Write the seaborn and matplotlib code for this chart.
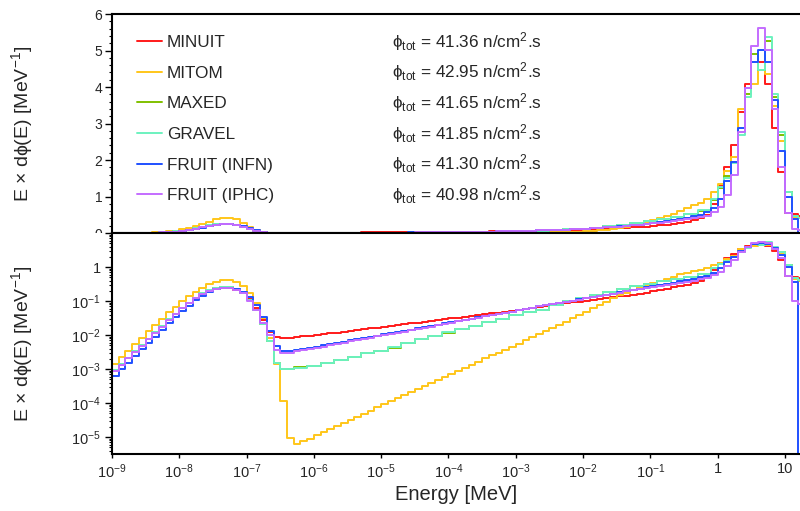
import numpy as np
import pandas as pd
import matplotlib
matplotlib.use('Agg')
import matplotlib.pyplot as plt
from matplotlib.ticker import FixedLocator, FuncFormatter, MultipleLocator, NullLocator, NullFormatter
from matplotlib.patches import Rectangle
import seaborn as sns

sns.set_theme(style='ticks')
plt.rcParams['font.family'] = ['Liberation Sans', 'DejaVu Sans']
plt.rcParams['mathtext.fontset'] = 'custom'
plt.rcParams['mathtext.rm'] = 'Liberation Sans'
plt.rcParams['mathtext.it'] = 'Liberation Sans:italic'
plt.rcParams['mathtext.bf'] = 'Liberation Sans:bold'

# energy binning: 10 bins / decade, first bin starts at 1e-9 MeV
first_decade = -9
bins_per_decade = 10

methods = ['MINUIT', 'MITOM', 'MAXED', 'GRAVEL', 'FRUIT (INFN)', 'FRUIT (IPHC)']
colors = ['#ff1a1a', '#ffc61a', '#80c000', '#6cf2bf', '#1f50ff', '#c46cff']
phi_tot = ['41.36', '42.95', '41.65', '41.85', '41.30', '40.98']

# log10 of E x dphi(E) per bin
minuit = [-3.03, -2.87, -2.68, -2.48, -2.30, -2.12, -1.92, -1.74, -1.55, -1.38,
          -1.21, -1.06, -0.92, -0.80, -0.71, -0.65, -0.62, -0.62, -0.67, -0.76,
          -0.95, -1.22, -1.56, -1.90, -2.07, -2.09, -2.08, -2.06, -2.04, -2.02,
          -2.00, -1.97, -1.95, -1.93, -1.90, -1.88, -1.85, -1.83, -1.80, -1.78,
          -1.76, -1.73, -1.71, -1.69, -1.66, -1.64, -1.61, -1.59, -1.56, -1.54,
          -1.51, -1.49, -1.46, -1.44, -1.41, -1.39, -1.36, -1.34, -1.31, -1.29,
          -1.26, -1.24, -1.21, -1.18, -1.15, -1.11, -1.09, -1.07, -1.04, -1.02,
          -0.99, -0.97, -0.94, -0.92, -0.89, -0.86, -0.84, -0.81, -0.78, -0.75,
          -0.72, -0.68, -0.64, -0.60, -0.56, -0.52, -0.46, -0.40, -0.30, -0.10,
          0.11, 0.26, 0.38, 0.52, 0.61, 0.67, 0.67, 0.61, 0.46, 0.22,
          -0.27, -0.28, -0.33]

mitom = [-2.86, -2.66, -2.46, -2.27, -2.08, -1.88, -1.71, -1.52, -1.33, -1.17,
         -1.01, -0.86, -0.73, -0.61, -0.51, -0.43, -0.38, -0.38, -0.43, -0.55,
         -0.75, -1.05, -1.51, -2.10, -2.86, -3.94, -5.04, -5.21, -5.12, -5.05,
         -4.94, -4.85, -4.77, -4.68, -4.58, -4.49, -4.40, -4.31, -4.22, -4.13,
         -4.04, -3.95, -3.86, -3.77, -3.68, -3.59, -3.50, -3.41, -3.32, -3.23,
         -3.14, -3.05, -2.96, -2.87, -2.78, -2.69, -2.60, -2.52, -2.43, -2.34,
         -2.25, -2.16, -2.07, -1.98, -1.89, -1.80, -1.72, -1.61, -1.50, -1.40,
         -1.31, -1.22, -1.12, -1.02, -0.92, -0.83, -0.75, -0.67, -0.59, -0.52,
         -0.46, -0.40, -0.34, -0.28, -0.22, -0.17, -0.12, -0.08, -0.03, 0.05,
         0.13, 0.23, 0.32, 0.53, 0.60, 0.61, 0.65, 0.64, 0.54, 0.40,
         0.05, -0.35, -0.40]

maxed = [-3.03, -2.86, -2.67, -2.47, -2.29, -2.11, -1.91, -1.73, -1.54, -1.37,
         -1.20, -1.05, -0.90, -0.77, -0.68, -0.62, -0.59, -0.59, -0.64, -0.75,
         -0.98, -1.26, -1.68, -2.18, -2.83, -3.00, -3.00, -2.95, -2.95, -2.90,
         -2.90, -2.81, -2.81, -2.74, -2.74, -2.64, -2.64, -2.53, -2.53, -2.46,
         -2.46, -2.37, -2.37, -2.23, -2.23, -2.13, -2.13, -2.03, -2.03, -1.93,
         -1.93, -1.83, -1.83, -1.74, -1.74, -1.62, -1.62, -1.53, -1.53, -1.42,
         -1.42, -1.32, -1.32, -1.25, -1.25, -1.13, -1.13, -1.01, -1.01, -0.92,
         -0.92, -0.83, -0.83, -0.74, -0.74, -0.66, -0.66, -0.57, -0.57, -0.49,
         -0.49, -0.42, -0.42, -0.35, -0.35, -0.28, -0.28, -0.21, -0.21, -0.04,
         0.09, 0.19, 0.29, 0.44, 0.58, 0.69, 0.65, 0.72, 0.57, 0.43,
         0.05, -0.33, -0.38]

gravel = [-3.03, -2.86, -2.67, -2.47, -2.29, -2.11, -1.91, -1.73, -1.54, -1.37,
          -1.20, -1.05, -0.90, -0.77, -0.68, -0.62, -0.59, -0.59, -0.64, -0.75,
          -0.98, -1.26, -1.68, -2.18, -2.83, -3.01, -3.01, -2.96, -2.96, -2.90,
          -2.90, -2.81, -2.81, -2.74, -2.74, -2.64, -2.64, -2.52, -2.52, -2.46,
          -2.46, -2.36, -2.36, -2.23, -2.23, -2.13, -2.13, -2.03, -2.03, -1.92,
          -1.92, -1.83, -1.83, -1.74, -1.74, -1.61, -1.61, -1.53, -1.53, -1.41,
          -1.41, -1.32, -1.32, -1.25, -1.25, -1.13, -1.13, -1.00, -1.00, -0.92,
          -0.92, -0.83, -0.83, -0.74, -0.74, -0.66, -0.66, -0.57, -0.57, -0.49,
          -0.49, -0.42, -0.42, -0.35, -0.35, -0.28, -0.28, -0.20, -0.20, -0.03,
          0.10, 0.18, 0.28, 0.43, 0.57, 0.67, 0.65, 0.73, 0.58, 0.44,
          0.05, -0.33, -0.38]

fruit_infn = [-3.21, -3.00, -2.81, -2.62, -2.42, -2.24, -2.05, -1.85, -1.66, -1.48,
              -1.29, -1.15, -0.97, -0.85, -0.74, -0.65, -0.61, -0.61, -0.66, -0.73,
              -0.87, -1.12, -1.46, -1.88, -2.31, -2.46, -2.46, -2.44, -2.41, -2.37,
              -2.34, -2.30, -2.27, -2.23, -2.20, -2.16, -2.12, -2.09, -2.05, -2.02,
              -1.98, -1.95, -1.91, -1.87, -1.84, -1.80, -1.77, -1.73, -1.70, -1.66,
              -1.62, -1.59, -1.55, -1.52, -1.48, -1.45, -1.41, -1.38, -1.34, -1.31,
              -1.27, -1.23, -1.20, -1.16, -1.13, -1.09, -1.06, -1.02, -0.99, -0.95,
              -0.92, -0.88, -0.85, -0.81, -0.78, -0.74, -0.71, -0.67, -0.64, -0.60,
              -0.57, -0.53, -0.50, -0.46, -0.42, -0.38, -0.34, -0.30, -0.25, -0.17,
              -0.03, 0.15, 0.29, 0.46, 0.60, 0.67, 0.70, 0.67, 0.56, 0.35,
              -0.01, -0.43, -np.inf]

fruit_iphc = [-3.05, -2.88, -2.69, -2.49, -2.31, -2.13, -1.93, -1.75, -1.56, -1.39,
              -1.22, -1.07, -0.92, -0.79, -0.71, -0.64, -0.62, -0.62, -0.67, -0.77,
              -1.00, -1.26, -1.66, -2.00, -2.44, -2.52, -2.52, -2.48, -2.45, -2.41,
              -2.37, -2.34, -2.30, -2.26, -2.23, -2.19, -2.15, -2.12, -2.08, -2.04,
              -2.01, -1.97, -1.93, -1.90, -1.86, -1.82, -1.79, -1.75, -1.71, -1.67,
              -1.64, -1.60, -1.56, -1.53, -1.49, -1.45, -1.42, -1.38, -1.34, -1.31,
              -1.27, -1.23, -1.20, -1.16, -1.12, -1.09, -1.06, -1.03, -0.99, -0.96,
              -0.92, -0.89, -0.85, -0.82, -0.78, -0.75, -0.71, -0.68, -0.64, -0.61,
              -0.58, -0.55, -0.52, -0.49, -0.46, -0.43, -0.40, -0.36, -0.32, -0.24,
              -0.14, 0.02, 0.20, 0.44, 0.60, 0.71, 0.75, 0.70, 0.53, 0.26,
              -0.27, -1.00, -1.10]

series = [minuit, mitom, maxed, gravel, fruit_infn, fruit_iphc]
n_bins = len(minuit)
edges = 10.0 ** (first_decade + np.arange(n_bins + 1) / bins_per_decade)

frames = []
for name, logv in zip(methods, series):
    v = 10.0 ** np.asarray(logv, dtype=float)
    # histogram outline: start from zero at the first edge, close the last bin
    x = np.concatenate([[edges[0]], edges])
    y = np.concatenate([[0.0], v, [v[-1]]])
    frames.append(pd.DataFrame({'Energy': x, 'flux': y, 'method': name}))
df = pd.concat(frames, ignore_index=True)

fig = plt.figure(figsize=(8, 5.11), dpi=100)
ax_top = fig.add_axes([0.14, 0.544, 0.86, 0.4286])
ax_bot = fig.add_axes([0.14, 0.1115, 0.86, 0.4325])

for ax in (ax_top, ax_bot):
    sns.lineplot(data=df, x='Energy', y='flux', hue='method', hue_order=methods,
                 palette=colors, estimator=None, sort=False, drawstyle='steps-post',
                 linewidth=1.4, ax=ax, legend=(ax is ax_top))
    ax.set_xscale('log')
    ax.set_xlim(1e-9, 10 ** 1.223)
    ax.set_xlabel('')
    ax.set_ylabel('E × dϕ(E) [MeV$^{\\mathregular{-1}}$]', fontsize=14)
    ax.yaxis.set_label_coords(-0.112, 0.5)
    for s in ['left', 'top', 'bottom']:
        ax.spines[s].set_linewidth(1.5)
        ax.spines[s].set_color('black')
    ax.spines['right'].set_visible(False)
    ax.tick_params(axis='y', which='major', direction='out', length=5, width=1,
                   labelsize=10, pad=2, color='black')
    ax.tick_params(axis='y', which='minor', direction='out', length=2.5, width=0.8,
                   color='black', left=True)

# top panel: linear
ax_top.set_ylim(0, 6)
ax_top.yaxis.set_major_locator(MultipleLocator(1))
ax_top.yaxis.set_minor_locator(MultipleLocator(0.2))
ax_top.xaxis.set_major_locator(NullLocator())
ax_top.xaxis.set_minor_locator(NullLocator())
ax_top.tick_params(axis='x', bottom=False, labelbottom=False)

sns.move_legend(ax_top, loc='upper left', bbox_to_anchor=(0.036, 0.905), title=None,
                frameon=False, fontsize=12.3, handlelength=1.5, handletextpad=0.25,
                labelspacing=0.92, borderaxespad=0, borderpad=0)

for i, val in enumerate(phi_tot):
    ax_top.text(0.407, 0.849 - i * 0.1402,
                'ϕ$_{\\mathregular{tot}}$ = ' + val + ' n/cm$^{\\mathregular{2}}$.s',
                transform=ax_top.transAxes, fontsize=12.3, va='baseline', ha='left')

# bottom panel: logarithmic
ax_bot.set_yscale('log')
ax_bot.set_ylim(10 ** -5.5, 10)
ax_bot.yaxis.set_major_locator(FixedLocator([1e-5, 1e-4, 1e-3, 1e-2, 1e-1, 1]))
ax_bot.yaxis.set_minor_locator(FixedLocator(
    [m * 10.0 ** d for d in range(-6, 1) for m in range(2, 10)] + [1e-6, 10]))
ax_bot.yaxis.set_minor_formatter(NullFormatter())


def pow_label(v, pos):
    e = int(round(np.log10(v)))
    if e == 0:
        return '1'
    if e == 1:
        return '10'
    return '$\\mathregular{10^{%d}}$' % e


ax_bot.yaxis.set_major_formatter(FuncFormatter(pow_label))
ax_bot.tick_params(axis='y', which='major', labelsize=10.5, pad=3)
ax_bot.xaxis.set_major_locator(FixedLocator([10.0 ** d for d in range(-9, 2)]))
ax_bot.xaxis.set_major_formatter(FuncFormatter(pow_label))
ax_bot.xaxis.set_minor_locator(NullLocator())
ax_bot.tick_params(axis='x', which='major', direction='out', length=3, width=1,
                   labelsize=10.5, pad=3, color='black', bottom=True)
ax_bot.set_xlabel('Energy [MeV]', fontsize=14.5)
ax_bot.xaxis.set_label_coords(0.5, -0.14)
ax_bot.set_zorder(2)

# the lower panel hides the bottom half of the "0" label of the upper panel
fig.add_artist(Rectangle((0.105, 0.527), 0.024, 0.017, transform=fig.transFigure,
                         facecolor='white', edgecolor='none', zorder=10))

fig.savefig('out.png', dpi=100)
